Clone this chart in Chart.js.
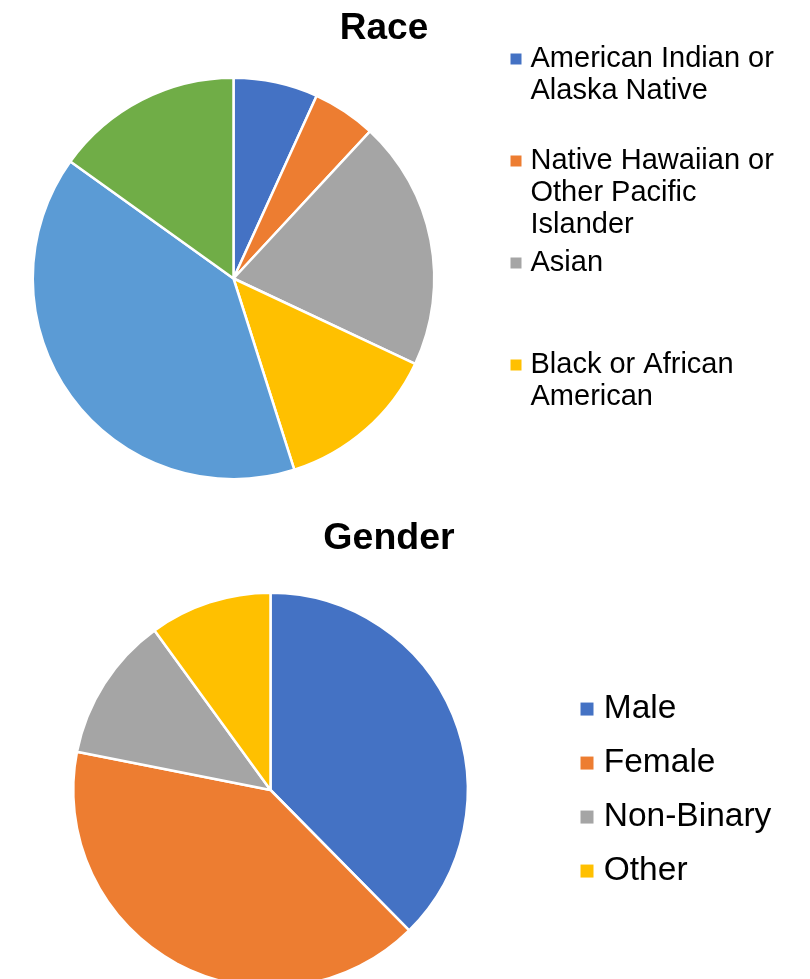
<!DOCTYPE html>
<html>
<head>
<meta charset="utf-8">
<title>Race and Gender</title>
<script src="https://cdn.jsdelivr.net/npm/chart.js@4.4.1/dist/chart.umd.min.js"></script>
<style>
  html, body { margin: 0; padding: 0; background: #fff; }
  body { width: 810px; height: 979px; overflow: hidden; position: relative; }
  canvas { position: absolute; }
  #raceChart { left: -43px; top: 0; }
  #genderChart { left: -39px; top: 490px; }
</style>
</head>
<body>
<canvas id="raceChart" width="854" height="515"></canvas>
<canvas id="genderChart" width="856" height="510"></canvas>
<script>
// categories are split into the lines the legend shows
const raceLabels = [
    ['American Indian or', 'Alaska Native'],
    ['Native Hawaiian or', 'Other Pacific', 'Islander'],
    ['Asian'],
    ['Black or African', 'American'],
    ['White'],
    ['More than one race']
];
const raceValues = [6.8, 5.1, 20.1, 13.1, 39.8, 15.1];
const raceColors = ['#4472C4', '#ED7D31', '#A5A5A5', '#FFC000', '#5B9BD5', '#70AD47'];

const genderLabels = ['Male', 'Female', 'Non-Binary', 'Other'];
const genderValues = [37.6, 40.5, 11.9, 10.0];
const genderColors = ['#4472C4', '#ED7D31', '#A5A5A5', '#FFC000'];

Chart.defaults.font.family = "'Liberation Sans', Arial, sans-serif";
Chart.defaults.color = '#000';

// legend box gets a fixed width so the title sits where it does in the original
const legendWidth = {
    id: 'legendWidth',
    afterInit(chart, args, opts) {
        const fit = chart.legend.fit;
        chart.legend.fit = function () {
            fit.call(this);
            this.width = opts.width;
        };
    }
};

// pad every legend entry to the same number of lines
function legendLabels(lines) {
    return chart => Chart.overrides.pie.plugins.legend.labels.generateLabels(chart).map(item => {
        const text = [].concat(item.text);
        while (text.length < lines) text.push('');
        return Object.assign(item, { text, lineWidth: 0, pointStyle: 'rect' });
    });
}

function makePie(id, labels, values, colors, o) {
    return new Chart(document.getElementById(id), {
        type: 'pie',
        data: {
            labels,
            datasets: [{
                data: values,
                backgroundColor: colors,
                borderColor: '#fff',
                borderWidth: 2.5,
                radius: o.radius
            }]
        },
        plugins: [legendWidth],
        options: {
            responsive: false,
            animation: false,
            events: [],
            plugins: {
                title: {
                    display: true,
                    text: o.title,
                    color: '#000',
                    font: { size: o.titleSize, weight: 'bold', lineHeight: '26px' },
                    padding: o.titlePadding
                },
                legend: {
                    position: 'right',
                    align: 'start',
                    title: { display: true, text: '', padding: 0, font: { lineHeight: o.legendTop + 'px' } },
                    labels: {
                        usePointStyle: true,
                        boxWidth: 0.01,
                        boxHeight: o.box,
                        padding: o.gap,
                        color: '#000',
                        font: { size: o.fontSize, lineHeight: o.lineHeight + 'px' },
                        generateLabels: legendLabels(o.lines),
                        filter: item => item.index < o.shown
                    }
                },
                legendWidth: { width: o.legendWidth },
                tooltip: { enabled: false }
            }
        }
    });
}

makePie('raceChart', raceLabels, raceValues, raceColors, {
    title: 'Race', titleSize: 37, titlePadding: { top: 15.5, bottom: 0.5 },
    radius: 200.75, legendTop: 38.5, legendWidth: 301,
    fontSize: 29, lineHeight: 32, gap: 6, lines: 3, box: 11, shown: 4
});

makePie('genderChart', genderLabels, genderValues, genderColors, {
    title: 'Gender', titleSize: 37.5, titlePadding: { top: 35.7, bottom: 28.3 },
    radius: 197.25, legendTop: 195.3, legendWidth: 237,
    fontSize: 33.5, lineHeight: 47, gap: 7, lines: 1, box: 13, shown: 4
});
</script>
</body>
</html>
